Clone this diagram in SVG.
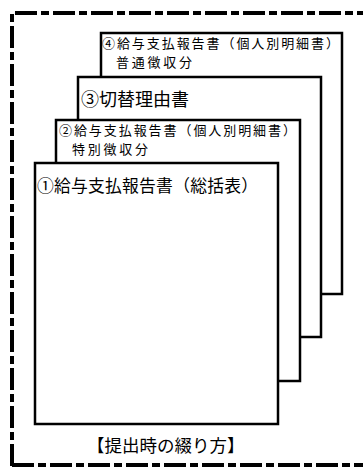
<svg xmlns="http://www.w3.org/2000/svg" width="363" height="467" viewBox="0 0 363 467">
<style>
.doc{fill:#fff;stroke:#000;stroke-width:2.5}
.frame{fill:none;stroke:#000;stroke-width:4;stroke-dasharray:22 4 8 4}
text{font-family:"Noto Sans CJK JP","Noto Sans CJK SC",sans-serif;fill:#000}
.s{font-size:13px}
</style>
<rect width="363" height="467" fill="#fff"/>
<g id="frame">
<path class="frame" d="M12 466 V13 H370"/>
<path class="frame" d="M12 465 H370"/>
</g>
<g id="doc4">
<rect class="doc" x="101" y="33" width="241" height="261"/>
<text class="s"><tspan x="102" y="48" textLength="237" lengthAdjust="spacing">④給与支払報告書（個人別明細書）</tspan><tspan x="116" y="67" textLength="76" lengthAdjust="spacing">普通徴収分</tspan></text>
</g>
<g id="doc3">
<rect class="doc" x="78" y="77" width="243" height="260"/>
<text x="81" y="106" font-size="18">③切替理由書</text>
</g>
<g id="doc2">
<rect class="doc" x="56" y="120" width="244" height="261"/>
<text class="s"><tspan x="59" y="135" textLength="237" lengthAdjust="spacing">②給与支払報告書（個人別明細書）</tspan><tspan x="72" y="154" textLength="76" lengthAdjust="spacing">特別徴収分</tspan></text>
</g>
<g id="doc1">
<rect class="doc" x="35" y="163" width="243" height="261"/>
<text x="37" y="192" font-size="16.8" textLength="221" lengthAdjust="spacing">①給与支払報告書（総括表）</text>
</g>
<g id="caption">
<text x="87" y="452" font-size="17.5">【提出時の綴り方】</text>
</g>
</svg>
